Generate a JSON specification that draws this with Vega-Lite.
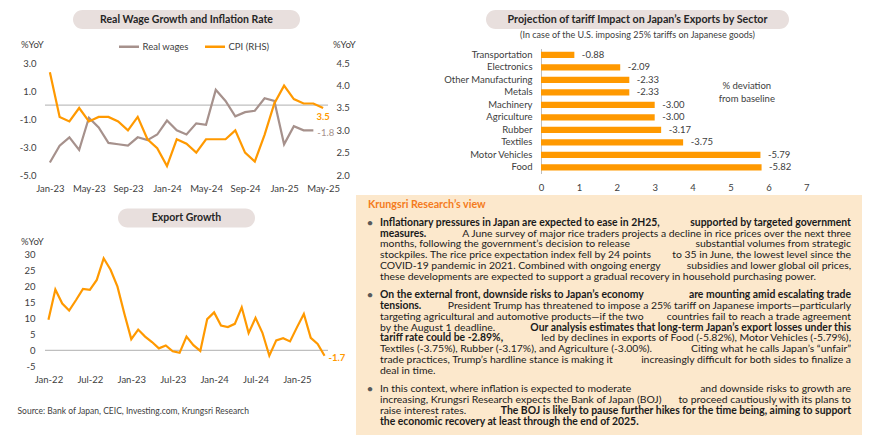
{
  "$schema": "https://vega.github.io/schema/vega-lite/v6.json",
  "padding": {"left": 17, "top": 10, "right": 0, "bottom": 0},
  "background": "white",
  "config": {
    "font": "Lato",
    "view": {"stroke": null},
    "locale": {"number": {"decimal": ".", "thousands": ",", "grouping": [3], "currency": ["$", ""], "minus": "-"}},
    "axis": {"domain": false, "ticks": false, "grid": false, "labelFontSize": 9.5, "labelColor": "#404040", "titleFontSize": 9.5, "titleFontWeight": "normal", "titleColor": "#404040", "labelOverlap": false, "labelFlush": false}
  },
  "datasets": {
    "wages": [
      {"month": "Jan-23", "real_wages": -4.1, "cpi": 4.3},
      {"month": "Feb-23", "real_wages": -2.9, "cpi": 3.3},
      {"month": "Mar-23", "real_wages": -2.3, "cpi": 3.2},
      {"month": "Apr-23", "real_wages": -3.2, "cpi": 3.5},
      {"month": "May-23", "real_wages": -0.9, "cpi": 3.2},
      {"month": "Jun-23", "real_wages": -1.6, "cpi": 3.3},
      {"month": "Jul-23", "real_wages": -2.7, "cpi": 3.3},
      {"month": "Aug-23", "real_wages": -2.8, "cpi": 3.2},
      {"month": "Sep-23", "real_wages": -2.9, "cpi": 3.0},
      {"month": "Oct-23", "real_wages": -2.3, "cpi": 3.3},
      {"month": "Nov-23", "real_wages": -2.5, "cpi": 2.8},
      {"month": "Dec-23", "real_wages": -2.1, "cpi": 2.6},
      {"month": "Jan-24", "real_wages": -1.1, "cpi": 2.2},
      {"month": "Feb-24", "real_wages": -1.8, "cpi": 2.8},
      {"month": "Mar-24", "real_wages": -2.1, "cpi": 2.7},
      {"month": "Apr-24", "real_wages": -1.3, "cpi": 2.5},
      {"month": "May-24", "real_wages": -1.4, "cpi": 2.8},
      {"month": "Jun-24", "real_wages": 1.1, "cpi": 2.8},
      {"month": "Jul-24", "real_wages": 0.3, "cpi": 2.8},
      {"month": "Aug-24", "real_wages": -0.8, "cpi": 3.0},
      {"month": "Sep-24", "real_wages": -0.5, "cpi": 2.5},
      {"month": "Oct-24", "real_wages": -0.4, "cpi": 2.3},
      {"month": "Nov-24", "real_wages": 0.5, "cpi": 2.9},
      {"month": "Dec-24", "real_wages": 0.3, "cpi": 3.6},
      {"month": "Jan-25", "real_wages": -2.8, "cpi": 4.0},
      {"month": "Feb-25", "real_wages": -1.5, "cpi": 3.7},
      {"month": "Mar-25", "real_wages": -1.8, "cpi": 3.6},
      {"month": "Apr-25", "real_wages": -1.8, "cpi": 3.6},
      {"month": "May-25", "real_wages": null, "cpi": 3.5}
    ],
    "exports": [
      {"month": "Jan-22", "growth": 9.6}, {"month": "Feb-22", "growth": 19.1}, {"month": "Mar-22", "growth": 14.7},
      {"month": "Apr-22", "growth": 12.5}, {"month": "May-22", "growth": 15.8}, {"month": "Jun-22", "growth": 19.3},
      {"month": "Jul-22", "growth": 19.0}, {"month": "Aug-22", "growth": 22.1}, {"month": "Sep-22", "growth": 28.9},
      {"month": "Oct-22", "growth": 25.3}, {"month": "Nov-22", "growth": 20.0}, {"month": "Dec-22", "growth": 11.5},
      {"month": "Jan-23", "growth": 3.5}, {"month": "Feb-23", "growth": 6.5}, {"month": "Mar-23", "growth": 4.3},
      {"month": "Apr-23", "growth": 2.6}, {"month": "May-23", "growth": 0.6}, {"month": "Jun-23", "growth": 1.5},
      {"month": "Jul-23", "growth": -0.3}, {"month": "Aug-23", "growth": -0.8}, {"month": "Sep-23", "growth": 4.3},
      {"month": "Oct-23", "growth": 1.6}, {"month": "Nov-23", "growth": -0.2}, {"month": "Dec-23", "growth": 9.8},
      {"month": "Jan-24", "growth": 11.9}, {"month": "Feb-24", "growth": 7.8}, {"month": "Mar-24", "growth": 7.3},
      {"month": "Apr-24", "growth": 8.3}, {"month": "May-24", "growth": 13.5}, {"month": "Jun-24", "growth": 5.4},
      {"month": "Jul-24", "growth": 10.2}, {"month": "Aug-24", "growth": 5.5}, {"month": "Sep-24", "growth": -1.7},
      {"month": "Oct-24", "growth": 3.1}, {"month": "Nov-24", "growth": 3.8}, {"month": "Dec-24", "growth": 2.8},
      {"month": "Jan-25", "growth": 7.2}, {"month": "Feb-25", "growth": 11.4}, {"month": "Mar-25", "growth": 3.9},
      {"month": "Apr-25", "growth": 2.0}, {"month": "May-25", "growth": -1.7}
    ],
    "tariff": [
      {"sector": "Transportation", "deviation": -0.88},
      {"sector": "Electronics", "deviation": -2.09},
      {"sector": "Other Manufacturing", "deviation": -2.33},
      {"sector": "Metals", "deviation": -2.33},
      {"sector": "Machinery", "deviation": -3.00},
      {"sector": "Agriculture", "deviation": -3.00},
      {"sector": "Rubber", "deviation": -3.17},
      {"sector": "Textiles", "deviation": -3.75},
      {"sector": "Motor Vehicles", "deviation": -5.79},
      {"sector": "Food", "deviation": -5.82}
    ],
    "view": [
      {"bullet": 0, "line": -1, "part": "start", "bold": true, "heading": true, "text": "Krungsri Research’s view"},
      {"bullet": 1, "line": 0, "part": "start", "bold": true, "text": "Inflationary pressures in Japan are expected to ease in 2H25,"},
      {"bullet": 1, "line": 0, "part": "end", "bold": true, "text": "supported by targeted government"},
      {"bullet": 1, "line": 1, "part": "start", "bold": true, "text": "measures."},
      {"bullet": 1, "line": 1, "part": "end", "bold": false, "text": "A June survey of major rice traders projects a decline in rice prices over the next three"},
      {"bullet": 1, "line": 2, "part": "start", "bold": false, "text": "months, following the government’s decision to release"},
      {"bullet": 1, "line": 2, "part": "end", "bold": false, "text": "substantial volumes from strategic"},
      {"bullet": 1, "line": 3, "part": "start", "bold": false, "text": "stockpiles. The rice price expectation index fell by 24 points"},
      {"bullet": 1, "line": 3, "part": "end", "bold": false, "text": "to 35 in June, the lowest level since the"},
      {"bullet": 1, "line": 4, "part": "start", "bold": false, "text": "COVID-19 pandemic in 2021. Combined with ongoing energy"},
      {"bullet": 1, "line": 4, "part": "end", "bold": false, "text": "subsidies and lower global oil prices,"},
      {"bullet": 1, "line": 5, "part": "start", "bold": false, "text": "these developments are expected to support a gradual recovery in household purchasing power."},
      {"bullet": 2, "line": 6, "part": "start", "bold": true, "text": "On the external front, downside risks to Japan’s economy"},
      {"bullet": 2, "line": 6, "part": "end", "bold": true, "text": "are mounting amid escalating trade"},
      {"bullet": 2, "line": 7, "part": "start", "bold": true, "text": "tensions."},
      {"bullet": 2, "line": 7, "part": "end", "bold": false, "text": "President Trump has threatened to impose a 25% tariff on Japanese imports—particularly"},
      {"bullet": 2, "line": 8, "part": "start", "bold": false, "text": "targeting agricultural and automotive products—if the two"},
      {"bullet": 2, "line": 8, "part": "end", "bold": false, "text": "countries fail to reach a trade agreement"},
      {"bullet": 2, "line": 9, "part": "start", "bold": false, "text": "by the August 1 deadline."},
      {"bullet": 2, "line": 9, "part": "end", "bold": true, "text": "Our analysis estimates that long-term Japan’s export losses under this"},
      {"bullet": 2, "line": 10, "part": "start", "bold": true, "text": "tariff rate could be -2.89%,"},
      {"bullet": 2, "line": 10, "part": "end", "bold": false, "text": "led by declines in exports of Food (-5.82%), Motor Vehicles (-5.79%),"},
      {"bullet": 2, "line": 11, "part": "start", "bold": false, "text": "Textiles (-3.75%), Rubber (-3.17%), and Agriculture (-3.00%)."},
      {"bullet": 2, "line": 11, "part": "end", "bold": false, "text": "Citing what he calls Japan’s “unfair”"},
      {"bullet": 2, "line": 12, "part": "start", "bold": false, "text": "trade practices, Trump’s hardline stance is making it"},
      {"bullet": 2, "line": 12, "part": "end", "bold": false, "text": "increasingly difficult for both sides to finalize a"},
      {"bullet": 2, "line": 13, "part": "start", "bold": false, "text": "deal in time."},
      {"bullet": 3, "line": 14, "part": "start", "bold": false, "text": "In this context, where inflation is expected to moderate"},
      {"bullet": 3, "line": 14, "part": "end", "bold": false, "text": "and downside risks to growth are"},
      {"bullet": 3, "line": 15, "part": "start", "bold": false, "text": "increasing, Krungsri Research expects the Bank of Japan (BOJ)"},
      {"bullet": 3, "line": 15, "part": "end", "bold": false, "text": "to proceed cautiously with its plans to"},
      {"bullet": 3, "line": 16, "part": "start", "bold": false, "text": "raise interest rates."},
      {"bullet": 3, "line": 16, "part": "end", "bold": true, "text": "The BOJ is likely to pause further hikes for the time being, aiming to support"},
      {"bullet": 3, "line": 17, "part": "start", "bold": true, "text": "the economic recovery at least through the end of 2025."}
    ]
  },
  "hconcat": [
    {
      "vconcat": [
        {
          "vconcat": [
            {
              "width": 227, "height": 19,
              "view": {"fill": "#E8DFDD", "stroke": null, "cornerRadius": 9.5},
              "data": {"values": [{"title": "Real Wage Growth and Inflation Rate"}]},
              "mark": {"type": "text", "fontSize": 10.5, "fontWeight": "bold", "color": "#262626"},
              "encoding": {"text": {"field": "title"}}
            },
            {
              "width": 283, "height": 111.7,
              "data": {"name": "wages"},
              "layer": [
                {
                  "layer": [
                    {
                      "data": {"values": [{}]},
                      "mark": {"type": "rule", "color": "#BFBFBF", "strokeWidth": 1.3},
                      "encoding": {"y": {"datum": 0, "type": "quantitative"}}
                    },
                    {
                      "mark": {"type": "line", "strokeWidth": 2.2},
                      "encoding": {
                        "x": {"field": "month", "type": "ordinal", "scale": {"type": "point", "padding": 0.5, "domain": ["Jan-23","Feb-23","Mar-23","Apr-23","May-23","Jun-23","Jul-23","Aug-23","Sep-23","Oct-23","Nov-23","Dec-23","Jan-24","Feb-24","Mar-24","Apr-24","May-24","Jun-24","Jul-24","Aug-24","Sep-24","Oct-24","Nov-24","Dec-24","Jan-25","Feb-25","Mar-25","Apr-25","May-25"]}, "axis": {"values": ["Jan-23","May-23","Sep-23","Jan-24","May-24","Sep-24","Jan-25","May-25"], "title": null, "labelAngle": 0, "labelPadding": 8, "labelOverlap": false}},
                        "y": {"field": "real_wages", "type": "quantitative", "scale": {"domain": [-5, 3], "nice": false, "zero": false}, "axis": {"values": [-5, -3, -1, 1, 3], "tickCount": 20, "format": ".1f", "labelPadding": 9, "labelOverlap": false, "title": "%YoY", "titleAngle": 0, "titleAlign": "left", "titleBaseline": "middle", "titleX": -24.5, "titleY": -19.3}},
                        "color": {"datum": "Real wages", "type": "nominal", "scale": {"domain": ["Real wages", "CPI (RHS)"], "range": ["#A6918C", "#FF9900"]}, "legend": {"orient": "none", "legendX": 72.5, "legendY": 25, "direction": "horizontal", "title": null, "symbolType": "stroke", "symbolSize": 400, "symbolStrokeWidth": 2.5, "labelFontSize": 9.5, "labelColor": "#404040", "columnPadding": 10, "labelOffset": 2}}
                      }
                    },
                    {
                      "transform": [{"filter": "datum.month == 'Apr-25'"}],
                      "mark": {"type": "text", "align": "left", "baseline": "middle", "dx": 4, "dy": 3, "fontSize": 9.5, "color": "#A6918C"},
                      "encoding": {
                        "x": {"field": "month", "type": "ordinal", "scale": {"type": "point", "padding": 0.5, "domain": ["Jan-23","Feb-23","Mar-23","Apr-23","May-23","Jun-23","Jul-23","Aug-23","Sep-23","Oct-23","Nov-23","Dec-23","Jan-24","Feb-24","Mar-24","Apr-24","May-24","Jun-24","Jul-24","Aug-24","Sep-24","Oct-24","Nov-24","Dec-24","Jan-25","Feb-25","Mar-25","Apr-25","May-25"]}, "axis": {"values": ["Jan-23","May-23","Sep-23","Jan-24","May-24","Sep-24","Jan-25","May-25"], "title": null, "labelAngle": 0, "labelPadding": 8, "labelOverlap": false}},
                        "y": {"field": "real_wages", "type": "quantitative"},
                        "text": {"field": "real_wages", "type": "quantitative", "format": ".1f"}
                      }
                    }
                  ]
                },
                {
                  "layer": [
                    {
                      "mark": {"type": "line", "strokeWidth": 2.2},
                      "encoding": {
                        "x": {"field": "month", "type": "ordinal", "scale": {"type": "point", "padding": 0.5, "domain": ["Jan-23","Feb-23","Mar-23","Apr-23","May-23","Jun-23","Jul-23","Aug-23","Sep-23","Oct-23","Nov-23","Dec-23","Jan-24","Feb-24","Mar-24","Apr-24","May-24","Jun-24","Jul-24","Aug-24","Sep-24","Oct-24","Nov-24","Dec-24","Jan-25","Feb-25","Mar-25","Apr-25","May-25"]}, "axis": {"values": ["Jan-23","May-23","Sep-23","Jan-24","May-24","Sep-24","Jan-25","May-25"], "title": null, "labelAngle": 0, "labelPadding": 8, "labelOverlap": false}},
                        "y": {"field": "cpi", "type": "quantitative", "scale": {"domain": [2, 4.5], "nice": false, "zero": false}, "axis": {"orient": "right", "values": [2, 2.5, 3, 3.5, 4, 4.5], "tickCount": 20, "format": ".1f", "labelPadding": 8, "labelOverlap": false, "title": "%YoY", "titleAngle": 0, "titleAlign": "left", "titleBaseline": "middle", "titleX": 4.5, "titleY": -19.3}},
                        "color": {"datum": "CPI (RHS)", "type": "nominal"}
                      }
                    },
                    {
                      "transform": [{"filter": "datum.month == 'May-25'"}],
                      "mark": {"type": "text", "align": "center", "baseline": "middle", "dy": 9, "fontSize": 9.5, "fontWeight": "bold", "color": "#FF9900"},
                      "encoding": {
                        "x": {"field": "month", "type": "ordinal", "scale": {"type": "point", "padding": 0.5, "domain": ["Jan-23","Feb-23","Mar-23","Apr-23","May-23","Jun-23","Jul-23","Aug-23","Sep-23","Oct-23","Nov-23","Dec-23","Jan-24","Feb-24","Mar-24","Apr-24","May-24","Jun-24","Jul-24","Aug-24","Sep-24","Oct-24","Nov-24","Dec-24","Jan-25","Feb-25","Mar-25","Apr-25","May-25"]}, "axis": {"values": ["Jan-23","May-23","Sep-23","Jan-24","May-24","Sep-24","Jan-25","May-25"], "title": null, "labelAngle": 0, "labelPadding": 8, "labelOverlap": false}},
                        "y": {"field": "cpi", "type": "quantitative"},
                        "text": {"field": "cpi", "type": "quantitative", "format": ".1f"}
                      }
                    }
                  ]
                }
              ],
              "resolve": {"scale": {"y": "independent"}}
            }
          ],
          "spacing": 34.3, "bounds": "flush", "center": true
        },
        {
          "vconcat": [
            {
              "width": 137, "height": 19,
              "view": {"fill": "#E8DFDD", "stroke": null, "cornerRadius": 9.5},
              "data": {"values": [{"title": "Export Growth"}]},
              "mark": {"type": "text", "fontSize": 10.5, "fontWeight": "bold", "color": "#262626"},
              "encoding": {"text": {"field": "title"}}
            },
            {
              "width": 283, "height": 111.4,
              "data": {"name": "exports"},
              "title": {"text": "Source: Bank of Japan, CEIC, Investing.com, Krungsri Research", "orient": "bottom", "anchor": "start", "frame": "group", "fontSize": 8.5, "fontWeight": "normal", "color": "#404040", "dx": -27.5, "offset": 23},
              "layer": [
                {
                  "data": {"values": [{}]},
                  "mark": {"type": "rule", "color": "#BFBFBF", "strokeWidth": 1.3},
                  "encoding": {"y": {"datum": 0, "type": "quantitative"}}
                },
                {
                  "mark": {"type": "line", "strokeWidth": 2.2, "color": "#FF9900"},
                  "encoding": {
                    "x": {"field": "month", "type": "ordinal", "sort": null, "scale": {"type": "point", "padding": 0.5}, "axis": {"values": ["Jan-22","Jul-22","Jan-23","Jul-23","Jan-24","Jul-24","Jan-25"], "title": null, "labelAngle": 0, "labelPadding": 8, "labelOverlap": false}},
                    "y": {"field": "growth", "type": "quantitative", "scale": {"domain": [-5, 30], "nice": false, "zero": false}, "axis": {"values": [-5, 0, 5, 10, 15, 20, 25, 30], "tickCount": 20, "format": "d", "labelPadding": 10, "labelOverlap": false, "title": "%YoY", "titleAngle": 0, "titleAlign": "left", "titleBaseline": "middle", "titleX": -24.5, "titleY": -13.3}}
                  }
                },
                {
                  "transform": [{"filter": "datum.month == 'May-25'"}],
                  "mark": {"type": "text", "align": "left", "baseline": "middle", "dx": 4, "dy": 2, "fontSize": 9.5, "fontWeight": "bold", "color": "#FF9900"},
                  "encoding": {
                    "x": {"field": "month", "type": "ordinal", "sort": null},
                    "y": {"field": "growth", "type": "quantitative"},
                    "text": {"field": "growth", "type": "quantitative", "format": ".1f"}
                  }
                }
              ]
            }
          ],
          "spacing": 27.3, "bounds": "flush", "center": true
        }
      ],
      "spacing": 15.5
    },
    {
      "vconcat": [
        {
          "vconcat": [
            {
              "hconcat": [
                {"width": 130, "height": 1, "data": {"values": []}, "mark": "point"},
                {
                  "width": 303, "height": 19,
                  "view": {"fill": "#E8DFDD", "stroke": null, "cornerRadius": 9.5},
                  "data": {"values": [{"title": "Projection of tariff Impact on Japan’s Exports by Sector"}]},
                  "title": {"text": "(In case of the U.S. imposing 25% tariffs on Japanese goods)", "orient": "bottom", "anchor": "middle", "fontSize": 9, "fontWeight": "normal", "color": "#404040", "offset": 1.5},
                  "mark": {"type": "text", "fontSize": 10.7, "fontWeight": "bold", "color": "#262626"},
                  "encoding": {"text": {"field": "title"}}
                }
              ],
              "spacing": 0, "bounds": "flush"
            },
            {
              "hconcat": [
                {"width": 184.3, "height": 1, "data": {"values": []}, "mark": "point"},
                {
                  "width": 265.3, "height": 125,
                  "data": {"name": "tariff"},
                  "encoding": {
                    "y": {"field": "sector", "type": "nominal", "scale": {"domain": ["Transportation","Electronics","Other Manufacturing","Metals","Machinery","Agriculture","Rubber","Textiles","Motor Vehicles","Food"], "paddingInner": 0.5, "paddingOuter": 0.25}, "axis": {"domain": true, "domainColor": "#BFBFBF", "domainWidth": 1, "labelPadding": 9, "labelOverlap": false, "title": null}}
                  },
                  "layer": [
                    {
                      "mark": {"type": "bar", "color": "#FF9900"},
                      "encoding": {"x": {"field": "deviation", "type": "quantitative", "scale": {"domain": [0, -7], "nice": false, "zero": false}, "axis": {"values": [0, -1, -2, -3, -4, -5, -6, -7], "tickCount": 20, "labelExpr": "format(abs(datum.value), 'd')", "title": null, "labelPadding": 9, "labelOverlap": false, "labelFlush": false}}}
                    },
                    {
                      "mark": {"type": "text", "align": "left", "baseline": "middle", "dx": 7.5, "fontSize": 9.5, "color": "#404040"},
                      "encoding": {"x": {"field": "deviation", "type": "quantitative"}, "text": {"field": "deviation", "type": "quantitative", "format": ".2f"}}
                    },
                    {
                      "data": {"values": [{"note": "% deviation\nfrom baseline"}]},
                      "mark": {"type": "text", "lineBreak": "\n", "lineHeight": 12.5, "align": "center", "baseline": "middle", "dy": -6, "fontSize": 9.5, "color": "#404040"},
                      "encoding": {"x": {"datum": -5.43, "type": "quantitative"}, "y": {"datum": "Metals", "type": "nominal"}, "text": {"field": "note"}}
                    }
                  ]
                }
              ],
              "spacing": 0, "bounds": "flush"
            }
          ],
          "spacing": 8.5
        },
        {
          "width": 506, "height": 240,
          "view": {"fill": "#FCE8CC", "stroke": null},
          "data": {"name": "view"},
          "transform": [{"calculate": "datum.line + 0.6 * (datum.bullet - 1)", "as": "pos"}],
          "encoding": {
            "y": {"field": "pos", "type": "quantitative", "scale": {"domain": [-2.525, 19.43], "nice": false, "zero": false, "reverse": true}, "axis": null}
          },
          "layer": [
            {
              "transform": [{"filter": "datum.part == 'start' && !datum.bold"}],
              "mark": {"type": "text", "align": "left", "baseline": "middle", "fontSize": 10.4, "color": "#1A1A1A"},
              "encoding": {"x": {"field": "part", "type": "nominal", "scale": {"type": "point", "padding": 0, "domain": ["start", "end"], "range": [24, 495]}, "axis": null}, "text": {"field": "text"}}
            },
            {
              "transform": [{"filter": "datum.part == 'start' && datum.bold && !datum.heading"}],
              "mark": {"type": "text", "align": "left", "baseline": "middle", "fontSize": 10.4, "fontWeight": "bold", "color": "#1A1A1A"},
              "encoding": {"x": {"field": "part", "type": "nominal", "scale": {"type": "point", "padding": 0, "domain": ["start", "end"], "range": [24, 495]}, "axis": null}, "text": {"field": "text"}}
            },
            {
              "transform": [{"filter": "datum.part == 'end' && !datum.bold"}],
              "mark": {"type": "text", "align": "right", "baseline": "middle", "fontSize": 10.4, "color": "#1A1A1A"},
              "encoding": {"x": {"field": "part", "type": "nominal", "scale": {"type": "point", "padding": 0, "domain": ["start", "end"], "range": [24, 495]}, "axis": null}, "text": {"field": "text"}}
            },
            {
              "transform": [{"filter": "datum.part == 'end' && datum.bold"}],
              "mark": {"type": "text", "align": "right", "baseline": "middle", "fontSize": 10.4, "fontWeight": "bold", "color": "#1A1A1A"},
              "encoding": {"x": {"field": "part", "type": "nominal", "scale": {"type": "point", "padding": 0, "domain": ["start", "end"], "range": [24, 495]}, "axis": null}, "text": {"field": "text"}}
            },
            {
              "transform": [{"filter": "datum.heading"}],
              "mark": {"type": "text", "align": "left", "baseline": "middle", "dx": -12, "fontSize": 10.7, "fontWeight": "bold", "color": "#F47B20"},
              "encoding": {"x": {"field": "part", "type": "nominal", "scale": {"type": "point", "padding": 0, "domain": ["start", "end"], "range": [24, 495]}, "axis": null}, "text": {"field": "text"}}
            },
            {
              "transform": [
                {"joinaggregate": [{"op": "min", "field": "line", "as": "first"}], "groupby": ["bullet"]},
                {"filter": "datum.line == datum.first && datum.part == 'start' && !datum.heading"}
              ],
              "mark": {"type": "text", "text": "•", "align": "center", "baseline": "middle", "dx": -10, "fontSize": 12, "color": "#595959"},
              "encoding": {"x": {"field": "part", "type": "nominal", "scale": {"type": "point", "padding": 0, "domain": ["start", "end"], "range": [24, 495]}, "axis": null}}
            }
          ]
        }
      ],
      "spacing": 3
    }
  ],
  "spacing": 0
}
